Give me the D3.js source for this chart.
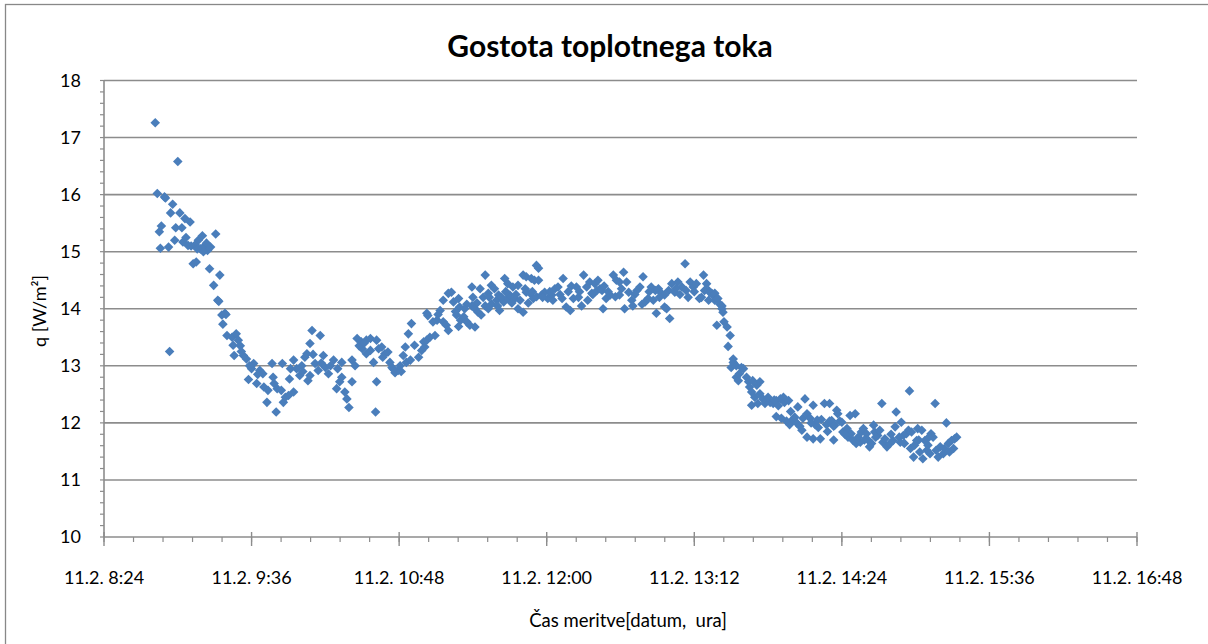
<!DOCTYPE html>
<html><head><meta charset="utf-8">
<script src="https://cdn.jsdelivr.net/npm/d3@7"></script>
<style>
html,body{margin:0;padding:0;background:#fff;}
svg text{font-family:Lato,"Open Sans",sans-serif;fill:#000;}
</style></head>
<body>
<svg id="chart" width="1208" height="644"></svg>
<script>
const chartTitle = "Gostota toplotnega toka";
const xTitle = "Čas meritve[datum,  ura]";
const yTitle = "q [W/m²]";
const measureDate = "11.02.2013";
const yTicks = [10, 11, 12, 13, 14, 15, 16, 17, 18];
const xTickLabels = ["11.2. 8:24","11.2. 9:36","11.2. 10:48","11.2. 12:00","11.2. 13:12","11.2. 14:24","11.2. 15:36","11.2. 16:48"];
const xStart = "8:24:00", xEnd = "16:48:00";

const times = [
"8:49:00","8:50:00","8:51:00","8:51:30","8:52:00","8:53:30","8:54:00","8:55:30","8:56:00","8:56:30",
"8:57:30","8:58:30","8:59:00","9:00:00","9:01:00","9:02:00","9:02:30","9:03:30","9:05:00","9:06:00",
"9:07:30","9:08:30","9:09:00","9:10:00","9:11:00","9:12:00","9:13:00","9:14:00","9:14:30","9:15:30",
"9:16:00","9:17:30","9:18:30","9:19:30","9:20:00","9:20:30","9:21:30","9:22:00","9:23:00","9:23:30",
"9:24:00","9:26:30","9:27:00","9:27:30","9:28:30","9:29:30","9:32:00","9:33:30","9:34:30","9:36:00",
"9:37:00","9:38:30","9:40:00","9:41:30","9:42:00","9:43:30","9:44:00","9:46:00","9:46:30","9:47:00",
"9:48:00","9:48:30","9:50:30","9:51:00","9:51:30","9:52:30","9:54:00","9:54:30","9:55:00","9:56:30",
"9:56:30","9:58:00","9:59:30","10:00:30","10:02:00","10:03:00","10:03:30","10:04:30","10:04:30","10:05:30",
"10:07:00","10:08:30","10:09:30","10:11:00","10:12:00","10:13:30","10:16:00","10:17:30","10:19:00","10:20:00",
"10:20:00","10:21:30","10:22:30","10:23:30","10:25:00","10:25:00","10:26:30","10:27:30","10:29:30","10:30:00",
"10:32:00","10:32:00","10:34:00","10:34:00","10:35:30","10:36:30","10:37:00","10:37:00","10:39:30","10:41:00",
"10:42:30","10:43:30","10:44:30","10:46:00","10:47:30","10:50:00","10:51:00","10:51:30","10:52:30","10:53:30",
"10:54:00","10:55:30","10:57:30","10:59:00","11:00:00","11:00:30","11:01:30","11:01:30","11:02:00","11:03:00",
"11:04:30","11:05:30","11:06:30","11:08:00","11:09:30","11:09:30","11:11:00","11:12:00","11:12:00","11:13:30",
"11:14:30","11:16:00","11:17:00","11:17:00","11:17:30","11:18:00","11:19:30","11:21:00","11:21:00","11:22:30",
"11:23:30","11:23:30","11:25:00","11:25:00","11:26:30","11:27:30","11:28:00","11:30:00","11:30:00","11:31:30",
"11:31:30","11:33:00","11:33:00","11:34:30","11:35:30","11:36:30","11:37:00","11:39:00","11:39:30","11:41:00",
"11:41:00","11:42:00","11:43:30","11:44:30","11:46:00","11:46:00","11:48:30","11:48:30","11:50:00","11:50:00",
"11:52:00","11:52:30","11:53:30","11:54:00","11:55:00","11:55:00","11:56:00","11:56:00","11:57:30","11:59:00",
"12:00:30","12:02:30","12:04:00","12:05:30","12:07:30","12:08:00","12:09:30","12:11:30","12:13:00","12:14:30",
"12:17:00","12:18:00","12:19:30","12:21:00","12:22:00","12:22:30","12:23:30","12:24:30","12:25:00","12:26:00",
"12:27:00","12:27:30","12:29:00","12:31:00","12:32:30","12:33:30","12:34:00","12:35:30","12:35:30","12:37:30",
"12:38:00","12:39:00","12:40:00","12:41:30","12:42:00","12:44:00","12:45:30","12:46:30","12:47:00","12:48:00",
"12:49:30","12:51:00","12:53:00","12:53:30","12:54:30","12:56:00","12:57:30","12:57:30","12:58:30","12:59:30",
"13:00:00","13:01:00","13:02:30","13:04:00","13:06:00","13:07:30","13:08:00","13:10:00","13:11:30","13:13:00",
"13:14:30","13:15:30","13:16:30","13:17:00","13:18:00","13:19:00","13:19:00","13:19:30","13:20:30","13:21:00",
"13:22:00","13:22:00","13:23:00","13:23:30","13:24:30","13:25:30","13:25:30","13:26:00","13:26:30","13:28:00",
"13:28:30","13:29:30","13:30:00","13:31:00","13:31:00","13:32:30","13:32:30","13:33:30","13:34:00","13:35:00",
"13:36:00","13:37:30","13:38:30","13:39:00","13:40:00","13:40:00","13:40:30","13:41:30","13:42:30","13:43:00",
"13:44:00","13:44:00","13:45:30","13:46:30","13:47:30","13:49:00","13:50:30","13:52:00","13:52:00","13:54:00",
"13:54:30","13:55:30","13:56:00","13:57:00","13:58:00","13:58:30","14:00:00","14:02:00","14:02:30","14:03:30",
"14:04:30","14:05:00","14:06:00","14:07:00","14:07:00","14:08:30","14:10:00","14:10:00","14:11:00","14:12:30",
"14:13:30","14:14:00","14:15:30","14:16:30","14:18:00","14:20:00","14:20:00","14:18:00","14:19:00","14:20:30",
"14:21:30","14:22:00","14:23:00","14:24:00","14:24:30","14:26:30","14:27:00","14:27:00","14:28:00","14:28:30",
"14:29:30","14:30:30","14:31:00","14:33:00","14:33:30","14:34:30","14:36:00","14:37:00","14:37:30","14:38:30",
"14:39:30","14:40:00","14:41:30","14:42:30","14:43:30","14:44:00","14:45:00","14:46:00","14:47:30","14:49:00",
"14:50:00","14:50:30","14:52:30","14:53:00","14:54:00","14:54:30","14:55:30","14:56:30","14:57:00","14:57:30",
"14:58:00","14:59:00","14:59:30","15:00:30","15:01:00","15:02:00","15:03:00","15:03:30","15:04:30","15:05:30",
"15:06:00","15:07:00","15:07:30","15:08:30","15:09:30","15:10:00","15:11:00","15:12:00","15:13:30","15:14:00",
"15:15:00","15:16:00","15:16:30","15:17:30","15:18:30","15:19:00","15:20:00",
// further readings in the densest parts of the cloud
"9:04:00","9:06:30","9:09:30","9:12:30","9:30:30","9:31:00","9:35:00","9:39:00",
"10:01:00","10:06:00","10:10:00","10:14:30","10:18:00","10:28:30","10:31:00","10:38:00","10:40:00","10:45:00","10:48:30","10:49:00",
"11:07:00","11:15:30","11:20:00","11:24:00","11:26:00","11:29:00","11:32:00","11:36:00",
"11:38:00","11:40:00","11:43:00","11:45:00","11:47:00","11:49:30","11:51:00","11:53:00","11:58:00","12:01:30",
"12:03:00","12:06:30","12:10:30","12:12:00","12:15:30","12:16:00","12:20:00","12:28:00","12:30:00","12:36:30",
"12:43:00","12:50:00","12:52:00","12:55:00","13:03:00","13:05:00","13:09:00","13:12:00",
"13:48:00","13:51:00","13:53:00","13:59:00","14:01:00","14:09:00","14:12:00","14:17:00","14:25:30","14:32:00",
"14:35:00","14:40:30","14:48:00","14:52:00","15:01:30","15:06:30"
];

const qValues = [
17.26,16.02,15.35,15.06,15.45,15.96,15.94,15.08,13.25,15.68,
15.83,15.20,15.42,16.58,15.68,15.42,15.17,15.58,15.11,15.52,
14.79,15.12,14.82,15.20,15.05,15.28,15.10,15.15,15.02,14.70,
15.08,14.41,15.31,14.15,14.13,14.59,13.89,13.73,13.92,13.90,
13.53,13.50,13.36,13.18,13.56,13.45,13.18,13.12,12.76,12.95,
13.04,12.69,12.92,12.86,12.63,12.36,12.57,13.04,12.80,12.69,
12.19,12.60,12.57,13.04,12.36,12.45,12.48,12.77,12.95,12.54,
13.10,12.95,12.83,13.00,13.15,13.21,12.74,12.83,13.39,13.62,
13.04,12.92,13.53,13.18,12.97,12.86,13.10,12.60,12.72,13.06,
12.80,12.54,12.42,12.27,12.72,13.10,13.00,13.48,13.42,13.30,
13.45,13.21,13.48,13.27,13.06,12.19,12.72,13.45,13.33,13.21,
13.24,13.06,12.97,12.88,12.92,13.18,13.33,13.06,13.56,13.10,
13.74,13.36,13.15,13.27,13.42,13.33,13.92,13.45,13.88,13.50,
13.77,13.53,13.80,13.97,14.15,13.77,13.71,14.27,13.62,14.29,
14.12,13.89,14.18,13.69,14.03,13.80,13.86,13.77,14.08,13.71,
14.05,14.38,13.68,14.00,13.94,14.35,13.89,14.59,14.05,14.27,
14.00,14.41,14.08,14.35,14.15,14.24,13.97,14.12,14.53,14.18,
14.44,14.24,14.38,14.18,14.41,14.00,14.59,13.94,14.56,14.29,
14.27,14.53,14.18,14.50,14.76,14.21,14.71,14.50,14.24,14.29,
14.18,14.24,14.35,14.38,14.18,14.53,14.03,13.97,14.18,14.38,
14.05,14.59,14.38,14.47,14.27,14.25,14.44,14.32,14.50,14.35,
14.32,14.00,14.18,14.24,14.59,14.21,14.50,14.47,14.24,14.64,
14.00,14.47,14.29,14.15,14.05,14.32,14.38,14.08,14.56,14.12,
14.18,14.38,14.32,13.92,14.35,14.27,14.24,14.03,14.00,14.32,
13.83,14.44,14.29,14.47,14.38,14.79,14.32,14.47,14.38,14.44,
14.18,14.20,14.59,14.32,14.44,14.32,14.15,14.29,14.27,14.24,
14.27,14.15,13.71,14.18,14.08,14.00,14.05,13.94,13.77,13.68,
13.34,13.53,12.97,13.12,13.06,13.00,12.80,12.74,12.86,12.97,
12.95,12.80,12.72,12.63,12.54,12.31,12.74,12.45,12.66,12.34,
12.72,12.51,12.42,12.34,12.39,12.36,12.34,12.39,12.11,12.42,
12.08,12.45,12.36,12.03,12.39,11.97,12.06,12.00,12.28,11.94,
11.87,12.08,12.42,12.16,11.75,12.08,12.31,11.72,11.97,11.92,
11.72,12.06,12.34,11.97,12.03,11.94,11.70,12.34,12.04,11.96,
12.22,12.16,12.03,12.01,11.84,11.90,11.75,11.84,12.13,11.81,
11.69,12.16,11.64,11.66,11.84,11.90,11.81,11.69,11.58,11.64,
11.96,11.84,11.78,11.87,12.34,11.66,11.72,11.58,11.64,11.69,
11.93,12.19,11.66,12.01,11.78,11.64,11.81,11.87,12.56,11.55,
11.84,11.40,11.61,11.69,11.90,11.49,11.87,11.37,11.69,11.52,
11.61,11.46,11.81,11.75,12.34,11.52,11.40,11.58,11.46,11.55,
12.00,11.64,11.49,11.69,11.55,11.72,11.75,
// further readings
15.25,15.10,15.05,15.00,13.35,13.25,13.00,12.85,
12.90,13.20,13.05,13.00,12.95,13.35,13.40,13.30,13.15,12.95,13.00,12.90,
13.90,13.95,14.00,14.20,14.10,14.20,14.20,14.05,
14.20,14.30,14.10,14.25,14.15,14.35,14.10,14.30,14.20,14.30,
14.15,14.25,14.30,14.40,14.20,14.30,14.15,14.40,14.30,14.35,
14.25,14.30,14.15,14.20,14.35,14.25,14.20,14.30,
12.45,12.40,12.30,12.20,12.10,12.00,12.05,11.85,11.80,11.75,
11.70,11.75,11.80,11.75,11.70,11.75
];

const parse = d3.timeParse("%d.%m.%Y %H:%M:%S");
const toDate = t => parse(measureDate + " " + t);
const data = times.map((t, i) => ({t: toDate(t), q: qValues[i]})).filter(d => d.t && d.q != null);

const svg = d3.select("#chart");
const W = 1208, H = 644;
const plot = {left: 104, right: 1137, top: 80.5, bottom: 537};

// outer chart frame
svg.append("rect").attr("x", 5.5).attr("y", 4.5).attr("width", W + 20).attr("height", H + 20)
  .attr("fill", "#fff").attr("stroke", "#888").attr("stroke-width", 1.3);

const x = d3.scaleTime().domain([toDate(xStart), toDate(xEnd)]).range([plot.left, plot.right]);
const y = d3.scaleLinear().domain([10, 18]).range([plot.bottom, plot.top]);

const gridColor = "#8c8c8c";
svg.append("g").selectAll("line").data(yTicks.filter(v => v !== 10)).join("line")
  .attr("x1", plot.left).attr("x2", plot.right)
  .attr("y1", d => y(d)).attr("y2", d => y(d))
  .attr("stroke", gridColor).attr("stroke-width", 1.6);

// y axis
const yMinor = d3.range(10, 18.0001, 0.2);
const yAxis = svg.append("g");
yAxis.append("line").attr("x1", plot.left).attr("x2", plot.left).attr("y1", plot.top).attr("y2", plot.bottom)
  .attr("stroke", gridColor).attr("stroke-width", 1.6);
yAxis.selectAll("line.minor").data(yMinor).join("line").attr("class", "minor")
  .attr("x1", plot.left - 4).attr("x2", plot.left)
  .attr("y1", d => y(d)).attr("y2", d => y(d))
  .attr("stroke", gridColor).attr("stroke-width", 1.2);
yAxis.selectAll("text").data(yTicks).join("text")
  .attr("x", 81).attr("y", d => y(d)).attr("dy", "0.36em")
  .attr("text-anchor", "end").attr("font-size", 18).text(d => d);

// x axis
const xMajor = d3.range(0, xTickLabels.length).map(i => d3.timeMinute.offset(toDate(xStart), i * 72));
const xMinor = d3.range(0, (xTickLabels.length - 1) * 5 + 1).map(i => new Date(toDate(xStart).getTime() + i * 14.4 * 60000));
const xAxis = svg.append("g");
xAxis.append("line").attr("x1", plot.left).attr("x2", plot.right).attr("y1", plot.bottom).attr("y2", plot.bottom)
  .attr("stroke", gridColor).attr("stroke-width", 1.6);
xAxis.selectAll("line.minor").data(xMinor).join("line").attr("class", "minor")
  .attr("x1", d => x(d)).attr("x2", d => x(d))
  .attr("y1", plot.bottom).attr("y2", plot.bottom + 5)
  .attr("stroke", gridColor).attr("stroke-width", 1.2);
xAxis.selectAll("line.major").data(xMajor).join("line").attr("class", "major")
  .attr("x1", d => x(d)).attr("x2", d => x(d))
  .attr("y1", plot.bottom - 5).attr("y2", plot.bottom + 9)
  .attr("stroke", gridColor).attr("stroke-width", 1.4);
xAxis.selectAll("text").data(xMajor).join("text")
  .attr("x", d => x(d)).attr("y", 584)
  .attr("text-anchor", "middle").attr("font-size", 18)
  .text((d, i) => xTickLabels[i]);

// points
const diamond = d3.symbol().type(d3.symbolSquare).size(46);
svg.append("g").selectAll("path").data(data).join("path")
  .attr("d", diamond)
  .attr("transform", d => `translate(${x(d.t)},${y(d.q)}) rotate(45)`)
  .attr("fill", "#4a7ebb");

// titles
svg.append("text").attr("x", 610).attr("y", 57).attr("text-anchor", "middle")
  .attr("font-size", 30).attr("font-weight", "bold").text(chartTitle);
svg.append("text").attr("x", 628).attr("y", 627).attr("text-anchor", "middle")
  .attr("font-size", 18.5).style("white-space", "pre").text(xTitle);
svg.append("text").attr("transform", "translate(46,311) rotate(-90)").attr("text-anchor", "middle")
  .attr("font-size", 18).text(yTitle);
</script>
</body></html>
